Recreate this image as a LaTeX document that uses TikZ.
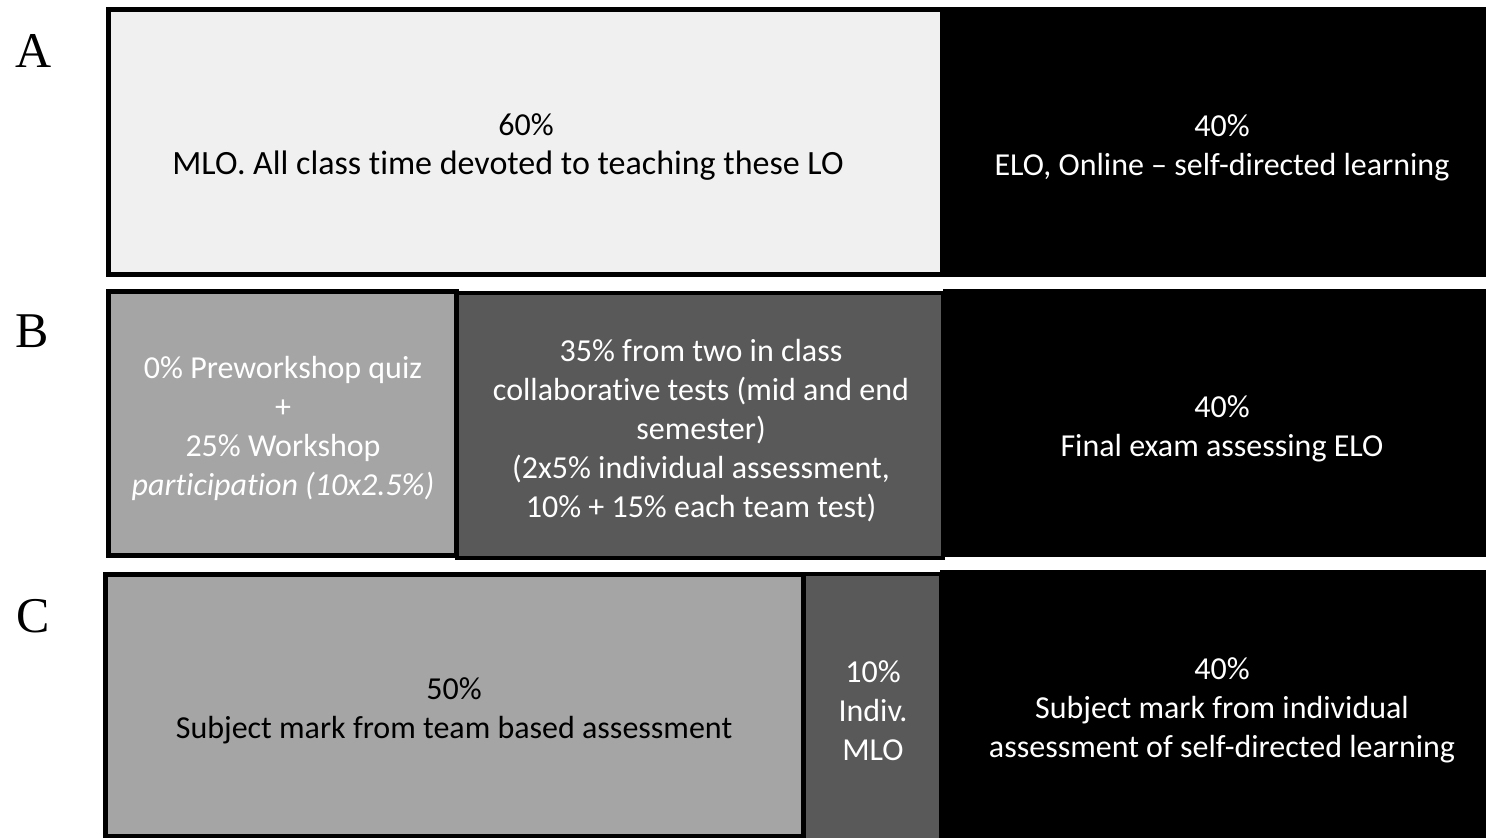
\documentclass[tikz,border=0pt]{standalone}
\usepackage{fontspec}
\setmainfont[Ligatures=NoCommon]{Carlito}
\newfontfamily\letterfont{Liberation Serif}
\definecolor{lightfill}{RGB}{240,240,240}
\definecolor{midfill}{RGB}{165,165,165}
\definecolor{darkfill}{RGB}{89,89,89}
\tikzset{
  x=0.5pt, y=-0.5pt,
  lightbox/.style={draw=black, line width=2.5pt, fill=lightfill},
  midbox/.style={draw=black, line width=2.5pt, fill=midfill},
  darkbox/.style={draw=black, line width=2pt, fill=darkfill},
  blackbox/.style={fill=black},
  boxtext/.style={align=center, inner sep=0pt, font=\fontsize{16}{19.5}\selectfont},
  rowletter/.style={anchor=base west, inner sep=0pt, font=\letterfont\fontsize{25}{30}\selectfont}
}
\begin{document}
\begin{tikzpicture}
\useasboundingbox[fill=white] (0,0) rectangle (1486,838);
% Row A
\path[lightbox] (108.5,9.5) rectangle (942,274.5);
\path[blackbox] (942,7) rectangle (1486,277);
% Row B
\path[midbox] (108.5,291.5) rectangle (456.5,555.5);
\path[darkbox] (457,293) rectangle (943,558);
\path[blackbox] (943,289) rectangle (1486,557);
% Row C
\path[midbox] (105.5,574.5) rectangle (803.5,836.5);
\path[darkbox] (804,574) rectangle (941,842);
\path[blackbox] (940,570) rectangle (1486,842);
% letters
\node[rowletter] (la) at (15,68) {A};
\node[rowletter] (lb) at (15,348) {B};
\node[rowletter] (lc) at (16,632) {C};
% texts
\node[boxtext, text=black] (ta1) at (526,147.5) {60\%\\{\fontsize{17}{19.5}\selectfont MLO. All class time devoted to teaching these LO}\hspace*{18pt}};
\node[boxtext, text=white] (ta2) at (1222,147.5) {40\%\\ELO, Online -- self-directed learning};
\node[boxtext, text=white] (tb1) at (283,428.5) {0\% Preworkshop quiz\\+\\25\% Workshop\\\textit{participation (10x2.5\%)}};
\node[boxtext, text=white] (tb2) at (701,430.5) {35\% from two in class\\collaborative tests (mid and end\\semester)\\(2x5\% individual assessment,\\10\% + 15\% each team test)};
\node[boxtext, text=white] (tb3) at (1222,428.5) {40\%\\Final exam assessing ELO};
\node[boxtext, text=black] (tc1) at (454,710.5) {50\%\\Subject mark from team based assessment};
\node[boxtext, text=white] (tc2) at (873,710.5) {10\%\\Indiv.\\MLO};
\node[boxtext, text=white] (tc3) at (1222,710.5) {40\%\\Subject mark from individual\\assessment of self-directed learning};
\end{tikzpicture}
\end{document}
